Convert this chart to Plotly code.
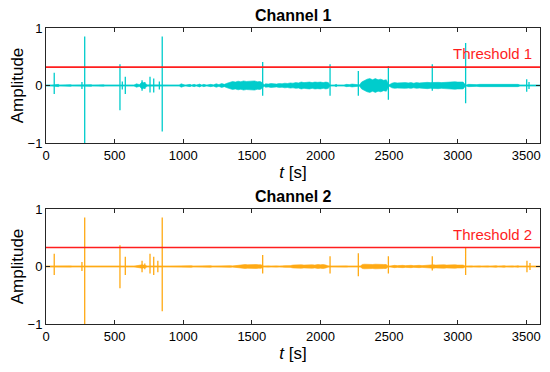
import plotly.graph_objects as go

# ---- data ----
threshold_1 = 0.32
threshold_2 = 0.33

# spikes: time, positive peak, negative peak
spike1_t  = [60, 262, 282, 539, 556, 578, 700, 720, 758, 785, 826, 847, 1579, 2070, 2276, 2495, 2815, 3058, 3503, 3520]
spike1_hi = [0.22, 0.06, 0.85, 0.37, 0.07, 0.15, 0.09, 0.06, 0.15, 0.12, 0.07, 0.85, 0.41, 0.37, 0.25, 0.34, 0.37, 0.74, 0.11, 0.06]
spike1_lo = [-0.15, -0.06, -1.0, -0.43, -0.07, -0.15, -0.09, -0.06, -0.12, -0.12, -0.07, -0.80, -0.18, -0.18, -0.18, -0.25, -0.09, -0.31, -0.11, -0.06]

spike2_t  = [60, 262, 282, 539, 578, 700, 720, 758, 785, 815, 847, 1579, 2070, 2276, 2495, 2815, 3058, 3505, 3527]
spike2_hi = [0.22, 0.08, 0.85, 0.37, 0.17, 0.10, 0.05, 0.22, 0.17, 0.10, 0.85, 0.20, 0.18, 0.23, 0.18, 0.18, 0.33, 0.10, 0.06]
spike2_lo = [-0.15, -0.08, -1.0, -0.38, -0.15, -0.10, -0.05, -0.12, -0.15, -0.10, -0.78, -0.12, -0.12, -0.17, -0.12, -0.07, -0.15, -0.10, -0.06]

# envelope (half amplitude) of the dense background signal, channel 1
env1_t = [0, 40, 90, 100, 180, 190, 330, 340, 420, 430, 640, 660, 680, 700, 720, 740, 900,
          970, 985, 1000, 1015, 1050, 1060, 1080, 1095, 1120, 1135, 1150, 1170,
          1200, 1220, 1240, 1260, 1280, 1300, 1320, 1340, 1360, 1380, 1400, 1420, 1440, 1460, 1480, 1500,
          1520, 1540, 1560, 1575,
          1590, 1600, 1620, 1640, 1660, 1680, 1700, 1720, 1740, 1760, 1780, 1800, 1820, 1840, 1860, 1880,
          1900, 1920, 1940, 1960, 1980, 2000, 2020, 2040, 2058,
          2070, 2100, 2115, 2125, 2170, 2190, 2210, 2230, 2250, 2268,
          2285, 2300, 2320, 2340, 2360, 2380, 2400, 2420, 2440, 2460, 2480, 2490,
          2500, 2520, 2540, 2560, 2580, 2600, 2620, 2640, 2660, 2680, 2700, 2720, 2740, 2760, 2780, 2800,
          2820, 2840, 2860, 2880, 2900, 2920, 2940, 2960, 2980, 3000, 3020, 3040, 3050,
          3060, 3080, 3100, 3120, 3140, 3160, 3180, 3200, 3220, 3240, 3260, 3280, 3300, 3320, 3340, 3360,
          3380, 3400, 3420, 3440, 3455, 3600]
env1_a = [0.005, 0.005, 0.02, 0.005, 0.015, 0.005, 0.015, 0.005, 0.012, 0.005, 0.005, 0.03, 0.015, 0.06, 0.04, 0.01, 0.005,
          0.005, 0.03, 0.02, 0.005, 0.02, 0.005, 0.02, 0.005, 0.025, 0.005, 0.02, 0.005,
          0.02, 0.01, 0.03, 0.015, 0.035, 0.02, 0.04, 0.05, 0.07, 0.06, 0.075, 0.065, 0.08, 0.07, 0.075, 0.07,
          0.08, 0.065, 0.07, 0.05,
          0.01, 0.03, 0.025, 0.035, 0.03, 0.025, 0.035, 0.03, 0.04, 0.035, 0.045, 0.04, 0.05, 0.045, 0.06, 0.05,
          0.055, 0.06, 0.05, 0.06, 0.055, 0.06, 0.05, 0.06, 0.05,
          0.005, 0.005, 0.02, 0.005, 0.005, 0.02, 0.015, 0.025, 0.02, 0.015,
          0.01, 0.06, 0.09, 0.11, 0.12, 0.10, 0.12, 0.10, 0.11, 0.09, 0.10, 0.05,
          0.01, 0.04, 0.05, 0.045, 0.05, 0.045, 0.05, 0.045, 0.05, 0.04, 0.05, 0.045, 0.05, 0.05, 0.055, 0.05,
          0.055, 0.05, 0.055, 0.05, 0.055, 0.06, 0.055, 0.06, 0.065, 0.06, 0.065, 0.06, 0.03,
          0.005, 0.02, 0.015, 0.02, 0.015, 0.02, 0.02, 0.015, 0.02, 0.02, 0.015, 0.02, 0.025, 0.02, 0.025, 0.02,
          0.025, 0.02, 0.025, 0.02, 0.005, 0.005]

# envelope (half amplitude) of the dense background signal, channel 2
env2_t = [0, 90, 100, 180, 190, 330, 340, 640, 680, 700, 720, 740, 900, 980, 995, 1060, 1075, 1130, 1145,
          1200, 1215, 1280, 1300, 1340, 1360, 1390, 1410, 1430, 1450, 1470, 1490, 1510, 1530, 1550, 1570, 1578,
          1590, 1620, 1640, 1680, 1700, 1740, 1760, 1780, 1800, 1820, 1840, 1860, 1880, 1900, 1920, 1940,
          1960, 1980, 2000, 2020, 2040, 2055,
          2080, 2130, 2145, 2190, 2205, 2240, 2260,
          2290, 2305, 2320, 2340, 2360, 2380, 2400, 2420, 2440, 2460, 2480, 2490,
          2505, 2520, 2540, 2560, 2580, 2600, 2620, 2640, 2660, 2680, 2700, 2720, 2740, 2760, 2780, 2800,
          2820, 2840, 2860, 2880, 2900, 2920, 2940, 2960, 2980, 3000, 3020, 3040, 3052,
          3065, 3100, 3115, 3160, 3175, 3220, 3235, 3280, 3295, 3340, 3355, 3400, 3415, 3440, 3450, 3600]
env2_a = [0.004, 0.012, 0.004, 0.01, 0.004, 0.01, 0.004, 0.004, 0.02, 0.03, 0.02, 0.004, 0.004, 0.012, 0.004, 0.012, 0.004, 0.012, 0.004,
          0.012, 0.004, 0.012, 0.004, 0.012, 0.008, 0.015, 0.03, 0.025, 0.035, 0.03, 0.035, 0.03, 0.035, 0.03, 0.03, 0.01,
          0.004, 0.01, 0.004, 0.01, 0.004, 0.012, 0.01, 0.015, 0.025, 0.03, 0.025, 0.03, 0.025, 0.03, 0.025, 0.03,
          0.025, 0.035, 0.03, 0.035, 0.025, 0.01,
          0.004, 0.01, 0.004, 0.01, 0.004, 0.012, 0.004,
          0.004, 0.035, 0.04, 0.035, 0.04, 0.035, 0.04, 0.035, 0.04, 0.035, 0.035, 0.01,
          0.004, 0.015, 0.02, 0.015, 0.02, 0.02, 0.015, 0.02, 0.02, 0.015, 0.02, 0.02, 0.015, 0.02, 0.02, 0.025,
          0.03, 0.025, 0.03, 0.025, 0.03, 0.025, 0.03, 0.025, 0.03, 0.025, 0.03, 0.025, 0.01,
          0.004, 0.01, 0.004, 0.01, 0.004, 0.01, 0.004, 0.012, 0.004, 0.012, 0.004, 0.01, 0.004, 0.012, 0.004, 0.004]

x_ticks = [0, 500, 1000, 1500, 2000, 2500, 3000, 3500]
y_ticks = [-1, 0, 1]

CYAN = "rgb(0,204,204)"
ORANGE = "rgb(255,170,20)"
RED = "rgb(255,30,30)"
FONT = "Liberation Sans, Arial, sans-serif"


def spike_path(ts, his, los):
    xs, ys = [0], [0]
    for t, h, l in zip(ts, his, los):
        xs += [t, t, t, t]
        ys += [0, h, l, 0]
    xs.append(3600)
    ys.append(0)
    return xs, ys


fig = go.Figure()

for row, (st, sh, sl, et, ea, col, thr) in enumerate([
        (spike1_t, spike1_hi, spike1_lo, env1_t, env1_a, CYAN, threshold_1),
        (spike2_t, spike2_hi, spike2_lo, env2_t, env2_a, ORANGE, threshold_2)], start=1):
    xa = "x" if row == 1 else "x2"
    ya = "y" if row == 1 else "y2"
    fig.add_trace(go.Scatter(x=et, y=ea, mode="lines", line=dict(color=col, width=0.6),
                             xaxis=xa, yaxis=ya, showlegend=False, hoverinfo="skip"))
    fig.add_trace(go.Scatter(x=et, y=[-a for a in ea], mode="lines", line=dict(color=col, width=0.6),
                             fill="tonexty", fillcolor=col,
                             xaxis=xa, yaxis=ya, showlegend=False, hoverinfo="skip"))
    sx, sy = spike_path(st, sh, sl)
    fig.add_trace(go.Scatter(x=sx, y=sy, mode="lines", line=dict(color=col, width=1.3),
                             xaxis=xa, yaxis=ya, showlegend=False))
    fig.add_trace(go.Scatter(x=[0, 3600], y=[thr, thr], mode="lines", line=dict(color=RED, width=1.6),
                             xaxis=xa, yaxis=ya, showlegend=False))

axis_common = dict(showline=True, linecolor="#262626", linewidth=1, mirror="ticks",
                   ticks="inside", ticklen=4, tickcolor="#262626", showgrid=False, zeroline=False,
                   automargin=False,
                   tickfont=dict(family=FONT, size=13, color="black"))
title_font = dict(family=FONT, size=17, color="black")

# the page body has an 8px margin, so the figure is sized to fit inside it
fig.update_layout(
    width=534, height=356,
    margin=dict(l=38, r=2, t=20, b=40),
    plot_bgcolor="white", paper_bgcolor="white",
    xaxis=dict(domain=[0, 1], range=[0, 3600], tickvals=x_ticks, anchor="y",
               title=dict(text="<i>t</i> [s]", font=title_font, standoff=2),
               **axis_common),
    yaxis=dict(domain=[0.6115, 1], range=[-1, 1], tickvals=y_ticks, anchor="x",
               title=dict(text="Amplitude", font=title_font, standoff=8),
               **axis_common),
    xaxis2=dict(domain=[0, 1], range=[0, 3600], tickvals=x_ticks, anchor="y2",
                title=dict(text="<i>t</i> [s]", font=title_font, standoff=2),
                **axis_common),
    yaxis2=dict(domain=[0, 0.3885], range=[-1, 1], tickvals=y_ticks, anchor="x2",
                title=dict(text="Amplitude", font=title_font, standoff=8),
                **axis_common),
    annotations=[
        dict(text="<b>Channel 1</b>", xref="paper", yref="paper", x=0.5, y=1, yshift=2,
             xanchor="center", yanchor="bottom", showarrow=False,
             font=dict(family=FONT, size=16, color="black")),
        dict(text="<b>Channel 2</b>", xref="paper", yref="paper", x=0.5, y=0.3885, yshift=2,
             xanchor="center", yanchor="bottom", showarrow=False,
             font=dict(family=FONT, size=16, color="black")),
        dict(text="Threshold 1", xref="x", yref="y", x=3555, y=0.55, xanchor="right", yanchor="middle",
             showarrow=False, font=dict(family=FONT, size=15, color=RED)),
        dict(text="Threshold 2", xref="x2", yref="y2", x=3555, y=0.55, xanchor="right", yanchor="middle",
             showarrow=False, font=dict(family=FONT, size=15, color=RED)),
    ],
)

fig.write_html("out.html")
